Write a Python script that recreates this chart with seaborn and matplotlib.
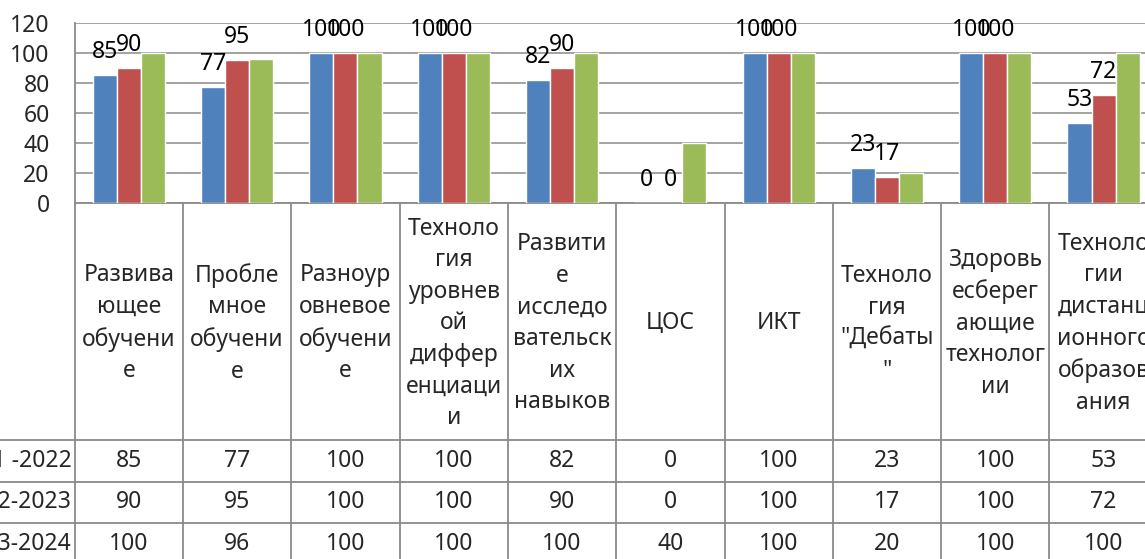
import numpy as np
import pandas as pd
import matplotlib
matplotlib.use("Agg")
import matplotlib.pyplot as plt
import matplotlib.transforms as mtransforms
import seaborn as sns

# ---------------- data ----------------
categories = [
    "Развива\nющее\nобучени\nе",
    "Пробле\nмное\nобучени\nе",
    "Разноур\nовневое\nобучени\nе",
    "Техноло\nгия\nуровнев\nой\nдиффер\nенциаци\nи",
    "Развити\nе\nисследо\nвательск\nих\nнавыков",
    "ЦОС",
    "ИКТ",
    "Техноло\nгия\n\"Дебаты\n\"",
    "Здоровь\nесберег\nающие\nтехнолог\nии",
    "Техноло\nгии\nдистанц\nионного\nобразов\nания",
]
years = ["2021 -2022", "2022-2023", "2023-2024"]
vals_2021_2022 = [85, 77, 100, 100, 82, 0, 100, 23, 100, 53]
vals_2022_2023 = [90, 95, 100, 100, 90, 0, 100, 17, 100, 72]
vals_2023_2024 = [100, 96, 100, 100, 100, 40, 100, 20, 100, 100]
series = [vals_2021_2022, vals_2022_2023, vals_2023_2024]
colors = ["#4F81BD", "#C0504D", "#9BBB59"]
yticks = [0, 20, 40, 60, 80, 100, 120]

df = pd.DataFrame({
    "cat": [c for s in series for c in categories],
    "year": [y for y, s in zip(years, series) for _ in s],
    "value": [v for s in series for v in s],
})

# ---------------- style ----------------
sns.set_style("white")
plt.rcParams["font.family"] = ["Noto Sans", "DejaVu Sans"]
FS = 16.5
GRID = "#8a8a8a"

W, H = 1145, 559
fig = plt.figure(figsize=(W / 100, H / 100), dpi=100)

def fy(px):
    return 1 - px / H

ax_left, ax_right = 74.7, 1157.7
ax_top, ax_bot = 22.7, 202.7
ax = fig.add_axes([ax_left / W, fy(ax_bot), (ax_right - ax_left) / W, (ax_bot - ax_top) / H])

sns.barplot(data=df, x="cat", y="value", hue="year", order=categories,
            hue_order=years, palette=colors, saturation=1, width=2 / 3,
            gap=0, legend=False, ax=ax, errorbar=None, zorder=3)

ax.set_xlim(-0.5, len(categories) - 0.5)
ax.set_ylim(0, 120)
ax.set_yticks(yticks)
ax.set_yticklabels([str(t) for t in yticks], fontsize=FS)
ax.tick_params(axis="y", length=0, pad=18)
ax.tick_params(axis="x", length=0, labelbottom=False)
ax.set_xlabel("")
ax.set_ylabel("")
ax.yaxis.grid(True, color=GRID, linewidth=1.1, zorder=0)
ax.set_axisbelow(True)
for side in ["top", "right"]:
    ax.spines[side].set_visible(False)
for side in ["left", "bottom"]:
    ax.spines[side].set_color(GRID)
    ax.spines[side].set_linewidth(1.3)

# data labels for first two series
for cont in ax.containers[:2]:
    ax.bar_label(cont, labels=[str(int(round(b.get_height()))) for b in cont],
                 fontsize=FS, padding=8, color="black")

# ---------------- data table ----------------
blend = mtransforms.blended_transform_factory(ax.transData, fig.transFigure)
n = len(categories)
header_top, header_bot = 202.7, 440
row_edges = [440, 481.7, 523, 565]
row_left = -1.4

for i in range(n + 1):
    x = i - 0.5
    ax.plot([x, x], [fy(header_top), fy(H + 10)], transform=blend,
            color=GRID, linewidth=1.3, clip_on=False, zorder=1)
for yp in row_edges:
    ax.plot([row_left, n - 0.5], [fy(yp), fy(yp)], transform=blend,
            color=GRID, linewidth=1.3, clip_on=False, zorder=1)

for i, cat in enumerate(categories):
    ax.text(i, fy((header_top + header_bot) / 2 + 2), cat, transform=blend,
            ha="center", va="center", multialignment="center",
            fontsize=FS, linespacing=1.42, clip_on=False)

for r, (yr, s) in enumerate(zip(years, series)):
    yc = (row_edges[r] + row_edges[r + 1]) / 2
    for i, v in enumerate(s):
        ax.text(i, fy(yc), str(v), transform=blend, ha="center", va="center",
                fontsize=FS, clip_on=False)
    ax.text(-0.5 - 0.03, fy(yc), yr, transform=blend, ha="right", va="center",
            fontsize=FS, clip_on=False)

fig.savefig("out.png", dpi=100, facecolor="white")
